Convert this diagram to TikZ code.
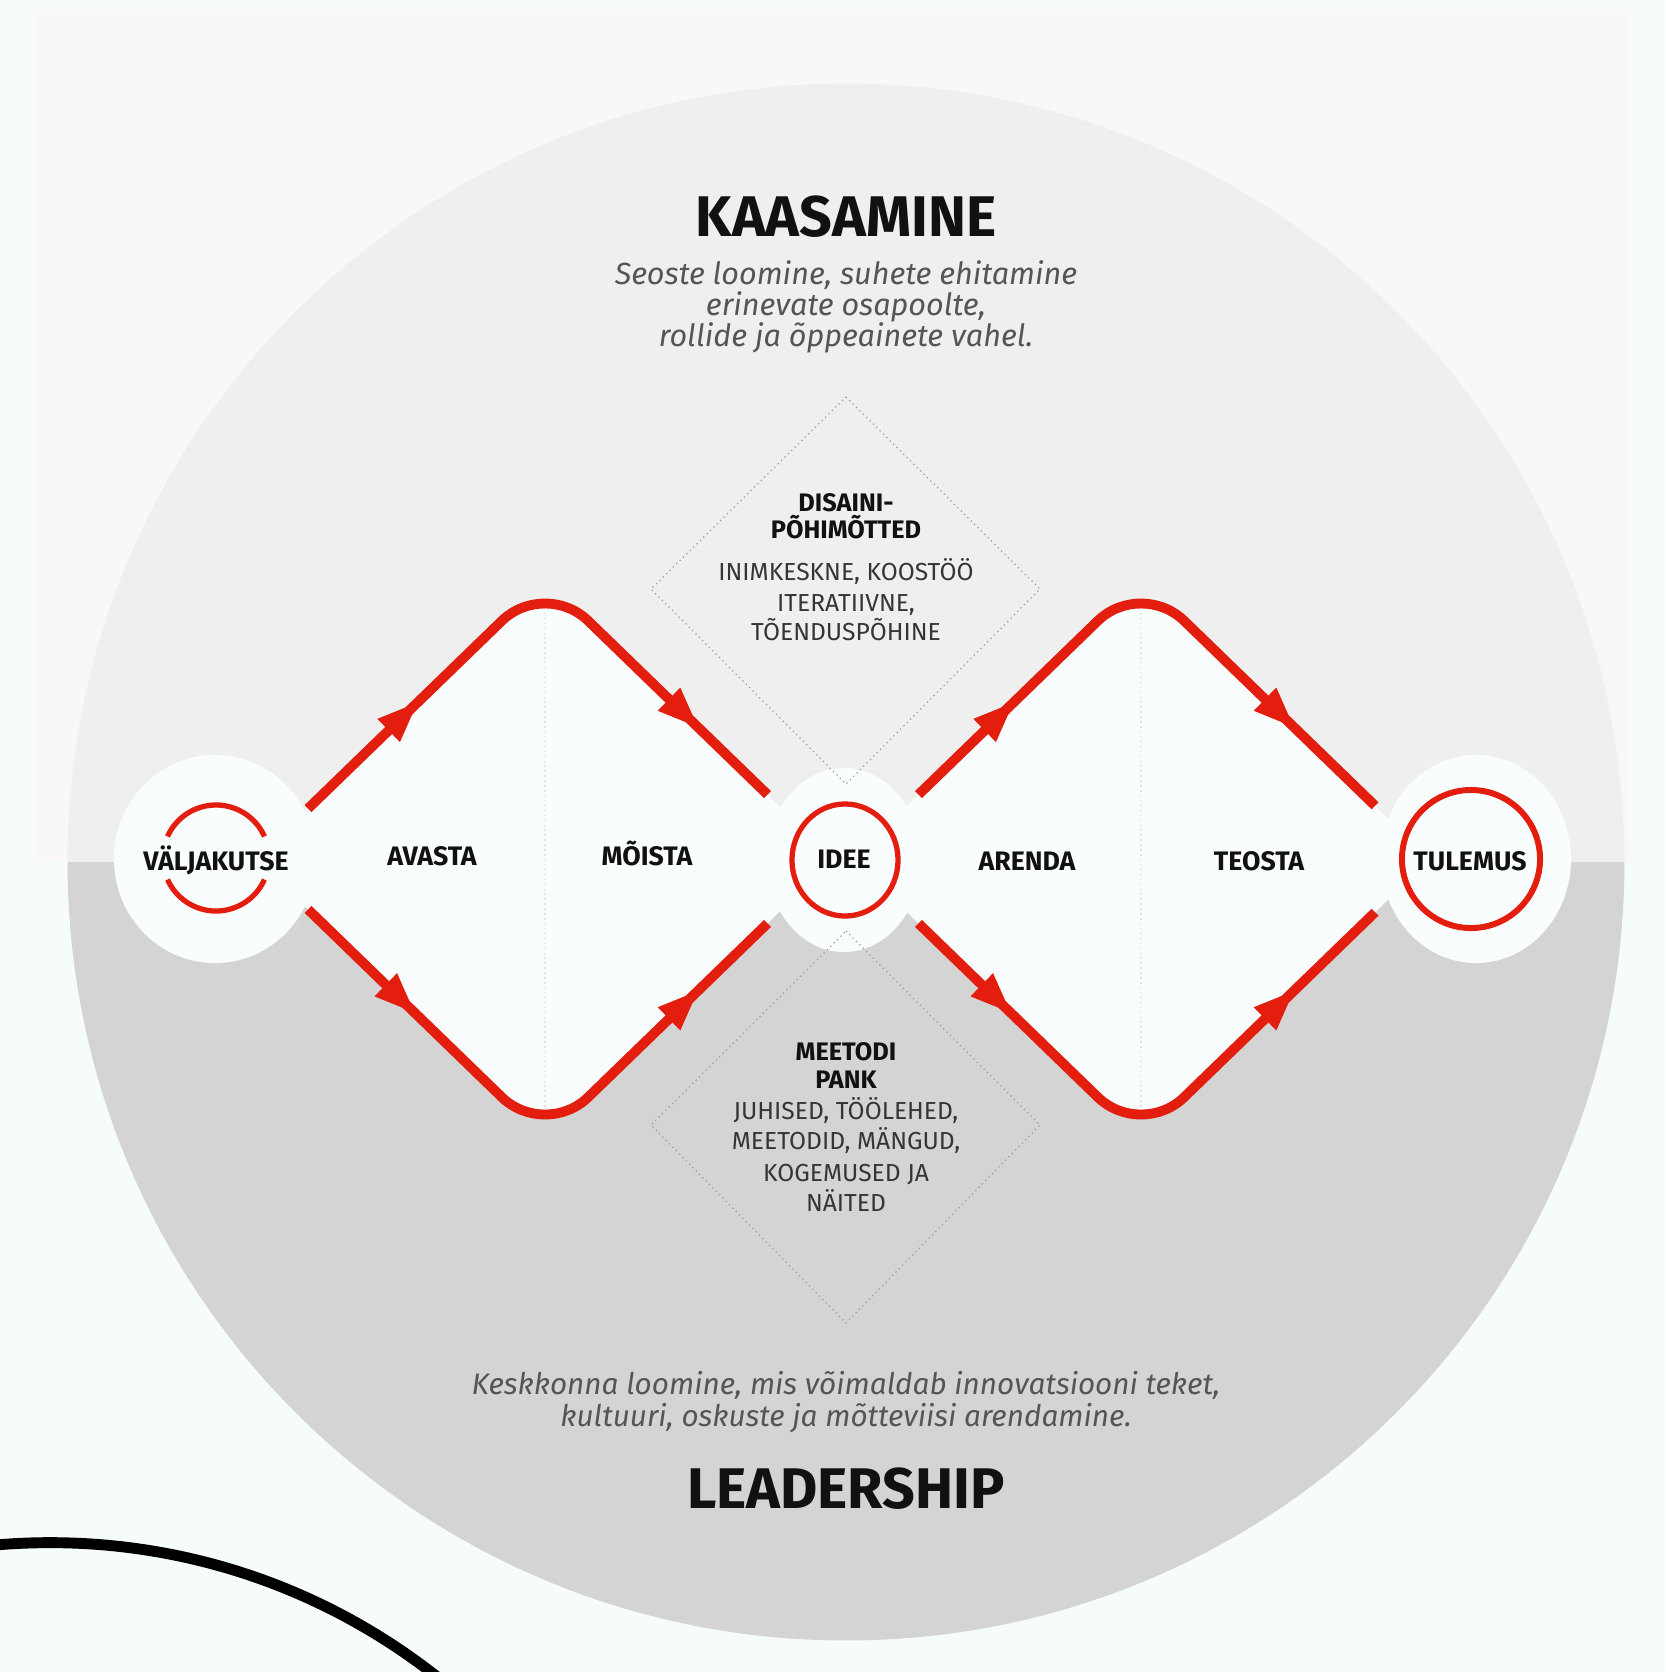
\documentclass[tikz,border=0pt]{standalone}
\usepackage{fontspec}
\setmainfont{Fira Sans}
\usetikzlibrary{shapes.geometric,arrows.meta,decorations.markings,calc}
\definecolor{bgc}{HTML}{F6FBFC}
\definecolor{rectc}{HTML}{F8F8F8}
\definecolor{upc}{HTML}{EFEFEF}
\definecolor{lowc}{HTML}{D4D4D4}
\definecolor{whc}{HTML}{FAFDFD}
\definecolor{redc}{HTML}{E41E0E}
\definecolor{txtc}{HTML}{111111}
\definecolor{grayt}{HTML}{555555}
\definecolor{dotc}{HTML}{9C9C9C}
\definecolor{faintc}{HTML}{EFDCDC}
\begin{document}
\begin{tikzpicture}[x=0.01cm,y=-0.01cm,
  redline/.style={draw=redc, line width=2.8pt, rounded corners=0.6cm},
  diafill/.style={fill=whc, rounded corners=0.6cm},
  halo/.style={ellipse, fill=whc, inner sep=0pt},
  ring/.style={draw=redc, line width=1.5pt},
  midarrow/.style={decorate, decoration={markings, mark=at position #1 with {\arrow[redc]{Triangle[length=0.4cm,width=0.32cm]}}}},
  dotline/.style={draw=dotc, line width=0.35pt, densely dotted},
  faint/.style={draw=faintc, line width=0.4pt, densely dotted},
  title/.style={font=\fontsize{16.3}{18}\selectfont\bfseries, text=txtc, anchor=base, inner sep=0pt},
  lbl/.style={font=\fontsize{7.6}{9}\selectfont\bfseries, text=txtc, anchor=base, inner sep=0pt},
  btitle/.style={font=\fontsize{7.2}{9}\selectfont\bfseries, text=txtc, anchor=base, inner sep=0pt},
  body/.style={font=\fontsize{7}{9}\selectfont, text=txtc!85!white, anchor=base, inner sep=0pt},
  ital/.style={font=\fontsize{8.7}{10}\selectfont\itshape, text=grayt, anchor=base, inner sep=0pt},
  italb/.style={font=\fontsize{8.45}{10}\selectfont\itshape, text=grayt, anchor=base, inner sep=0pt}
]
\useasboundingbox (0,0) rectangle (1665,1672);
\fill[bgc] (0,0) rectangle (1665,1672);
\fill[rectc] (34,9) rectangle (1630,862);
% big circle halves
\coordinate (C) at (846,862);
\fill[upc] (C) ++(-7.78cm,0) arc[start angle=180, end angle=0, radius=7.78cm] -- cycle;
\fill[lowc] (C) ++(-7.78cm,0) arc[start angle=180, end angle=360, radius=7.78cm] -- cycle;
% diamond vertices
\coordinate (L1) at (256,859); \coordinate (T1) at (545,579);
\coordinate (R1) at (834,859); \coordinate (B1) at (545,1139);
\coordinate (L2) at (852,859); \coordinate (T2) at (1141,579);
\coordinate (R2) at (1430,859); \coordinate (B2) at (1141,1139);
% white diamonds
\fill[diafill] (L1) -- (T1) -- (R1) -- (B1) -- cycle;
\fill[diafill] (L2) -- (T2) -- (R2) -- (B2) -- cycle;
% halos
\node[halo, minimum width=2.02cm, minimum height=2.08cm] (hv) at (215,859) {};
\node[halo, minimum width=1.54cm, minimum height=1.84cm] (hi) at (844,860) {};
\node[halo, minimum width=1.90cm, minimum height=2.08cm] (ht) at (1476,859) {};
% faint vertical lines
\draw[faint] ($(T1)+(0,24)$) -- ($(B1)+(0,-24)$);
\draw[faint] ($(T2)+(0,24)$) -- ($(B2)+(0,-24)$);
% red paths
\draw[redline] ($(L1)!0.18!(T1)$) -- (T1) -- ($(T1)!0.77!(R1)$);
\draw[redline] ($(L1)!0.18!(B1)$) -- (B1) -- ($(B1)!0.77!(R1)$);
\draw[redline] ($(L2)!0.23!(T2)$) -- (T2) -- ($(T2)!0.81!(R2)$);
\draw[redline] ($(L2)!0.23!(B2)$) -- (B2) -- ($(B2)!0.81!(R2)$);
\path[midarrow=0.56] (L1) -- (T1);
\path[midarrow=0.53] (T1) -- (R1);
\path[midarrow=0.55] (L1) -- (B1);
\path[midarrow=0.53] (B1) -- (R1);
\path[midarrow=0.56] (L2) -- (T2);
\path[midarrow=0.53] (T2) -- (R2);
\path[midarrow=0.55] (L2) -- (B2);
\path[midarrow=0.53] (B2) -- (R2);
% dotted diamonds
\coordinate (DT) at (846,397); \coordinate (DR) at (1040,589);
\coordinate (DB) at (846,784); \coordinate (DL) at (651,589);
\draw[dotline] (DT) -- (DR) -- (DB) -- (DL) -- cycle;
\coordinate (MT) at (846,931); \coordinate (MR) at (1040,1125);
\coordinate (MB) at (846,1323); \coordinate (ML) at (651,1125);
\draw[dotline] (MT) -- (MR) -- (MB) -- (ML) -- cycle;
% red rings
\coordinate (cv) at (216,858);
\draw[ring] (cv) ++(24:0.53cm) arc[start angle=24, end angle=156, radius=0.53cm];
\draw[ring] (cv) ++(204:0.53cm) arc[start angle=204, end angle=336, radius=0.53cm];
\node[ring, ellipse, minimum width=1.06cm, minimum height=1.12cm, inner sep=0pt] (ci) at (845,860) {};
\node[ring, circle, line width=1.7pt, minimum size=1.38cm, inner sep=0pt] (ct) at (1471,859) {};
% labels
\node[lbl] (v) at (216,870) {VÄLJAKUTSE};
\node[lbl] (avasta) at (432,865) {AVASTA};
\node[lbl] (moista) at (647,865) {MÕISTA};
\node[lbl] (idee) at (844,868) {IDEE};
\node[lbl] (arenda) at (1027,870) {ARENDA};
\node[lbl] (teosta) at (1259,870) {TEOSTA};
\node[lbl] (tulemus) at (1470,870) {TULEMUS};
% titles
\node[title] (kaas) at (846,236) {KAASAMINE};
\node[title] (lead) at (846,1508) {LEADERSHIP};
\node[ital] (s1) at (846,284) {Seoste loomine, suhete ehitamine};
\node[ital] (s2) at (846,315) {erinevate osapoolte,};
\node[ital] (s3) at (846,346) {rollide ja õppeainete vahel.};
\node[italb] (k1) at (846,1394) {Keskkonna loomine, mis võimaldab innovatsiooni teket,};
\node[italb] (k2) at (846,1426) {kultuuri, oskuste ja mõtteviisi arendamine.};
% design principles
\node[btitle] (d1) at (846,511) {DISAINI-};
\node[btitle] (d2) at (846,538) {PÕHIMÕTTED};
\node[body] (d3) at (846,580) {INIMKESKNE, KOOSTÖÖ};
\node[body] (d4) at (846,611) {ITERATIIVNE,};
\node[body] (d5) at (846,640) {TÕENDUSPÕHINE};
% method bank
\node[btitle] (m1) at (846,1060) {MEETODI};
\node[btitle] (m2) at (846,1088) {PANK};
\node[body] (m3) at (846,1119) {JUHISED, TÖÖLEHED,};
\node[body] (m4) at (846,1149) {MEETODID, MÄNGUD,};
\node[body] (m5) at (846,1181) {KOGEMUSED JA};
\node[body] (m6) at (846,1211) {NÄITED};
% black arc
\begin{scope}
\clip (0,0) rectangle (1665,1672);
\draw[line width=3.1pt, black] (50,2168) circle[radius=6.25cm];
\end{scope}
\end{tikzpicture}
\end{document}
